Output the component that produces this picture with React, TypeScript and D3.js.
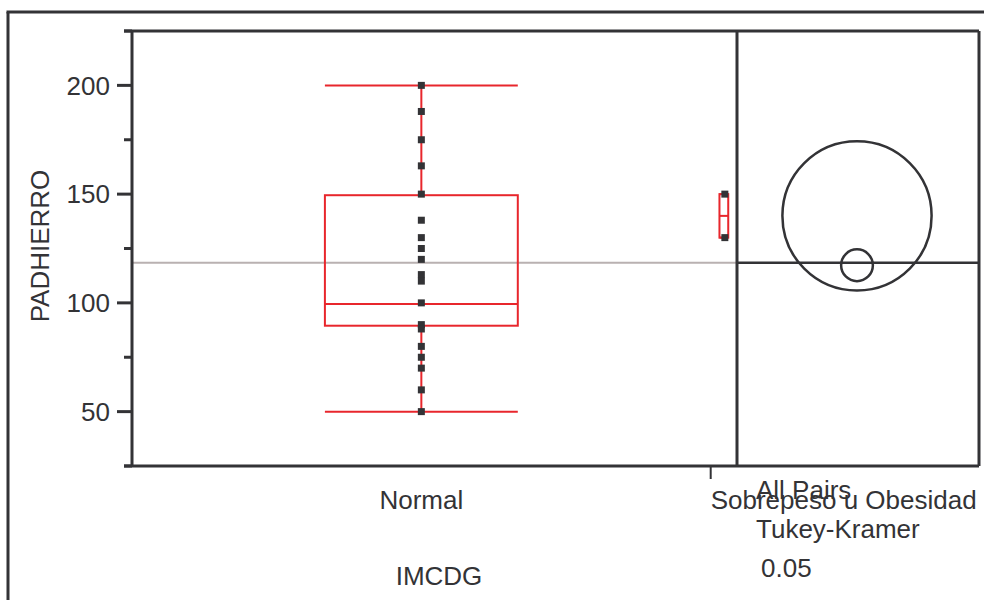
import React from "react";
import * as d3 from "d3";

// ---- data ----
const categories = ["Normal", "Sobrepeso u Obesidad"];
// estimated group sizes (JMP draws category widths proportional to n)
const categoryCounts = [44, 2];
const normalValues = [200, 188, 175, 163, 150, 138, 130, 125, 120, 113, 110, 100, 90, 88, 80, 75, 70, 60, 50];
const sobrepesoValues = [130, 150];
// box stats: min, q1, median, q3, max
const normalBox = [50, 89.5, 99.5, 149.5, 200];
const sobrepesoBox = [130, 130, 140, 150, 150];
const groupMeans = [117.3, 140];
const circleRadii = [7.3, 34.3];
const grandMean = 118.4;
const yMajorTicks = [50, 100, 150, 200];
const yMinorTicks = [25, 75, 125, 175, 225];
const yTitle = "PADHIERRO";
const xTitle = "IMCDG";
const testLabels = ["All Pairs", "Tukey-Kramer", "0.05"];

const FONT = "'Liberation Sans', Arial, Helvetica, sans-serif";
const INK = "#333336";
const RED = "#e8262c";
const FS = 26;

export default function App() {
  const left = 132, right = 737, top = 31, bottom = 466;
  const panelRight = 979;
  const y = d3.scaleLinear().domain([25, 225]).range([bottom, top]);
  const total = d3.sum(categoryCounts);
  const x = d3.scaleLinear().domain([0, total]).range([left, right]);
  const cum = [0, ...d3.cumsum(categoryCounts)];
  const bands = categories.map((c, i) => ({
    name: c,
    x0: x(cum[i]),
    x1: x(cum[i + 1]),
    cx: (x(cum[i]) + x(cum[i + 1])) / 2,
    w: x(cum[i + 1]) - x(cum[i]),
  }));
  const groups = [
    { values: normalValues, box: normalBox },
    { values: sobrepesoValues, box: sobrepesoBox },
  ];
  const panelCx = (right + panelRight) / 2 - 1;
  const rScale = (v: number) => y(0) - y(v);

  return (
    <svg
      width={984}
      height={600}
      style={{ position: "absolute", left: 0, top: 0, background: "#fff" }}
      fontFamily={FONT}
    >
      {/* outer frame */}
      <line x1={8} y1={12} x2={8} y2={600} stroke={INK} strokeWidth={3} />
      <line x1={6.5} y1={12} x2={984} y2={12} stroke={INK} strokeWidth={3} />

      {/* grand mean line */}
      <line x1={left} x2={right} y1={y(grandMean)} y2={y(grandMean)} stroke="#b9b1b1" strokeWidth={2} />
      <line x1={right} x2={panelRight} y1={y(grandMean)} y2={y(grandMean)} stroke={INK} strokeWidth={2.5} />

      {/* boxes */}
      {groups.map((g, i) => {
        const b = bands[i];
        const bw = b.w / 3;
        const x0 = b.cx - bw / 2;
        const x1 = b.cx + bw / 2;
        const [mn, q1, md, q3, mx] = g.box;
        return (
          <g key={i} stroke={RED} strokeWidth={2} fill="none">
            <line x1={x0} x2={x1} y1={y(mx)} y2={y(mx)} />
            <line x1={x0} x2={x1} y1={y(mn)} y2={y(mn)} />
            <line x1={b.cx} x2={b.cx} y1={y(mx)} y2={y(q3)} />
            <line x1={b.cx} x2={b.cx} y1={y(q1)} y2={y(mn)} />
            <rect x={x0} y={y(q3)} width={x1 - x0} height={y(q1) - y(q3)} />
            <line x1={x0} x2={x1} y1={y(md)} y2={y(md)} />
          </g>
        );
      })}

      {/* points */}
      {groups.map((g, i) =>
        g.values.map((v, j) => (
          <rect
            key={`${i}-${j}`}
            x={bands[i].cx - 3.5 + (i === 1 ? 1 : 0)}
            y={y(v) - 3.5}
            width={7}
            height={7}
            fill={INK}
          />
        ))
      )}

      {/* plot frame */}
      <line x1={left} x2={left} y1={top} y2={bottom} stroke={INK} strokeWidth={3} />
      <line x1={124} x2={panelRight} y1={top} y2={top} stroke={INK} strokeWidth={3} />
      <line x1={124} x2={panelRight} y1={bottom} y2={bottom} stroke={INK} strokeWidth={3} />
      <line x1={right} x2={right} y1={top} y2={bottom} stroke={INK} strokeWidth={3} />
      <line x1={panelRight} x2={panelRight} y1={top} y2={bottom} stroke={INK} strokeWidth={3} />

      {/* y ticks */}
      {yMajorTicks.map((t) => (
        <g key={t}>
          <line x1={117} x2={left} y1={y(t)} y2={y(t)} stroke={INK} strokeWidth={3} />
          <text x={110} y={y(t)} dy="0.36em" textAnchor="end" fontSize={FS} fill={INK}>
            {t}
          </text>
        </g>
      ))}
      {yMinorTicks.map((t) => (
        <line key={t} x1={124} x2={left} y1={y(t)} y2={y(t)} stroke={INK} strokeWidth={3} />
      ))}

      {/* category boundary tick */}
      <line x1={bands[1].x0} x2={bands[1].x0} y1={bottom} y2={479} stroke={INK} strokeWidth={2} />

      {/* category labels */}
      <text x={bands[0].cx} y={509} textAnchor="middle" fontSize={FS} fill={INK}>
        {categories[0]}
      </text>
      <text x={bands[1].x0} y={509} textAnchor="start" fontSize={FS} fill={INK}>
        {categories[1]}
      </text>

      {/* axis titles */}
      <text x={439} y={585} textAnchor="middle" fontSize={FS} fill={INK}>
        {xTitle}
      </text>
      <text
        transform={`translate(49,${246}) rotate(-90)`}
        textAnchor="middle"
        fontSize={FS}
        fill={INK}
      >
        {yTitle}
      </text>

      {/* comparison circles */}
      {groupMeans.map((m, i) => (
        <circle
          key={i}
          cx={panelCx}
          cy={y(m)}
          r={rScale(circleRadii[i])}
          fill="none"
          stroke={INK}
          strokeWidth={2.5}
        />
      ))}

      {/* test labels */}
      <text x={756} y={499} fontSize={FS} fill={INK}>{testLabels[0]}</text>
      <text x={756} y={538} fontSize={FS} fill={INK}>{testLabels[1]}</text>
      <text x={761} y={577} fontSize={FS} fill={INK}>{testLabels[2]}</text>
    </svg>
  );
}
